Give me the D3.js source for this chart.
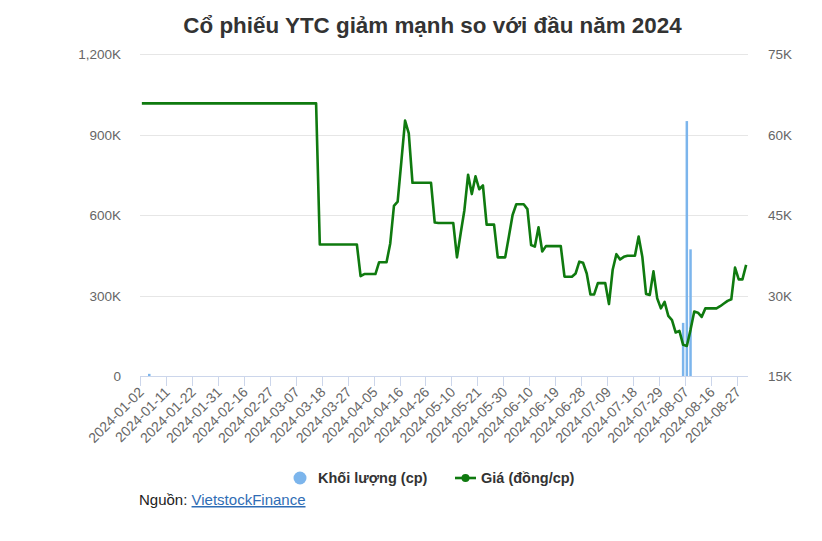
<!DOCTYPE html>
<html><head><meta charset="utf-8">
<script src="https://cdn.jsdelivr.net/npm/d3@7"></script>
<style>body{margin:0;background:#fff;} svg{display:block;font-family:"Liberation Sans",Arial,sans-serif;}</style>
</head><body><svg id="c" width="822" height="541"></svg>
<script>
const dates = [
"2024-01-02","2024-01-03","2024-01-04","2024-01-05","2024-01-08","2024-01-09","2024-01-10","2024-01-11","2024-01-12","2024-01-15","2024-01-16","2024-01-17","2024-01-18","2024-01-19","2024-01-22","2024-01-23","2024-01-24","2024-01-25","2024-01-26","2024-01-29","2024-01-30","2024-01-31",
"2024-02-01","2024-02-02","2024-02-05","2024-02-06","2024-02-07","2024-02-15","2024-02-16","2024-02-19","2024-02-20","2024-02-21","2024-02-22","2024-02-23","2024-02-26","2024-02-27","2024-02-28","2024-02-29",
"2024-03-01","2024-03-04","2024-03-05","2024-03-06","2024-03-07","2024-03-08","2024-03-11","2024-03-12","2024-03-13","2024-03-14","2024-03-15","2024-03-18","2024-03-19","2024-03-20","2024-03-21","2024-03-22","2024-03-25","2024-03-26","2024-03-27","2024-03-28","2024-03-29",
"2024-04-01","2024-04-02","2024-04-03","2024-04-04","2024-04-05","2024-04-08","2024-04-09","2024-04-10","2024-04-11","2024-04-12","2024-04-15","2024-04-16","2024-04-17","2024-04-19","2024-04-22","2024-04-23","2024-04-24","2024-04-25","2024-04-26",
"2024-05-02","2024-05-03","2024-05-06","2024-05-07","2024-05-08","2024-05-09","2024-05-10","2024-05-13","2024-05-14","2024-05-15","2024-05-16","2024-05-17","2024-05-20","2024-05-21","2024-05-22","2024-05-23","2024-05-24","2024-05-27","2024-05-28","2024-05-29","2024-05-30","2024-05-31",
"2024-06-03","2024-06-04","2024-06-05","2024-06-06","2024-06-07","2024-06-10","2024-06-11","2024-06-12","2024-06-13","2024-06-14","2024-06-17","2024-06-18","2024-06-19","2024-06-20","2024-06-21","2024-06-24","2024-06-25","2024-06-26","2024-06-27","2024-06-28",
"2024-07-01","2024-07-02","2024-07-03","2024-07-04","2024-07-05","2024-07-08","2024-07-09","2024-07-10","2024-07-11","2024-07-12","2024-07-15","2024-07-16","2024-07-17","2024-07-18","2024-07-19","2024-07-22","2024-07-23","2024-07-24","2024-07-25","2024-07-26","2024-07-29","2024-07-30","2024-07-31",
"2024-08-01","2024-08-02","2024-08-05","2024-08-06","2024-08-07","2024-08-08","2024-08-09","2024-08-12","2024-08-13","2024-08-14","2024-08-15","2024-08-16","2024-08-19","2024-08-20","2024-08-21","2024-08-22","2024-08-23","2024-08-26","2024-08-27","2024-08-28","2024-08-29"
];
// Giá (đồng/cp)
const price = [
65800,65800,65800,65800,65800,65800,65800,65800,65800,65800,65800,65800,65800,65800,65800,65800,65800,65800,65800,65800,65800,65800,
65800,65800,65800,65800,65800,65800,65800,65800,65800,65800,65800,65800,65800,65800,65800,65800,
65800,65800,65800,65800,65800,65800,65800,65800,65800,65800,39500,39500,39500,39500,39500,39500,39500,39500,39500,39500,39500,
33600,34000,34000,34000,34000,36200,36200,36200,39700,46700,47500,55000,62600,60200,51000,51000,51000,51000,51000,
51000,43600,43500,43500,43500,43500,43500,37100,41600,45900,52500,48900,52200,49800,50500,43200,43200,43200,37100,37100,37100,41000,
45000,47000,47000,47000,46100,39400,39100,42700,38200,39200,39200,39200,39200,39200,33500,33500,33500,34100,36300,36100,
34100,30200,30200,32300,32300,32300,28400,34800,37700,36700,37200,37400,37400,37400,41000,37200,30300,30100,34500,29500,27600,28800,26200,
25400,23100,23400,20800,20600,23600,27000,26800,26000,27600,27600,27600,27600,28000,28500,29000,29300,35200,33000,33000,35700
];
// Khối lượng (cp)
const volume = [
0,0,8000,0,0,0,0,0,0,0,0,0,0,0,0,0,0,0,0,0,0,0,
0,0,0,0,0,0,0,0,0,0,0,0,0,0,0,0,
0,0,0,0,0,0,0,0,0,0,0,0,0,0,0,0,0,0,0,0,0,
0,0,0,0,0,0,0,0,0,0,0,0,0,0,0,0,0,0,0,
0,0,0,0,0,0,0,0,0,0,0,0,0,0,0,0,0,0,0,0,0,0,
0,0,0,0,0,0,0,0,0,0,0,0,0,0,0,0,0,0,0,0,
0,0,0,0,0,0,0,0,0,0,0,0,0,0,0,0,0,0,0,0,0,0,0,
0,0,0,198000,950000,472000,0,0,0,0,0,0,0,0,0,0,0,0,0,0,0
];
const tickLabels = ["2024-01-02","2024-01-11","2024-01-22","2024-01-31","2024-02-16","2024-02-27","2024-03-07","2024-03-18","2024-03-27","2024-04-05","2024-04-16","2024-04-26","2024-05-10","2024-05-21","2024-05-30","2024-06-10","2024-06-19","2024-06-28","2024-07-09","2024-07-18","2024-07-29","2024-08-07","2024-08-16","2024-08-27"];
const volTicks = [0,300000,600000,900000,1200000];
const priceTicks = [15000,30000,45000,60000,75000];
const title = "Cổ phiếu YTC giảm mạnh so với đầu năm 2024";
const seriesNames = ["Khối lượng (cp)","Giá (đồng/cp)"];

const svg = d3.select("#c");
const L=140,R=748,T=54,B=376;
const x = d3.scaleBand().domain(dates).range([L,R]).padding(0);
const bw = x.bandwidth();
const cx = d => x(d)+bw/2;
const yV = d3.scaleLinear().domain([0,1200000]).range([B,T]);
const yP = d3.scaleLinear().domain([15000,75000]).range([B,T]);

svg.append("text").attr("x",432.5).attr("y",33).attr("text-anchor","middle")
  .attr("font-size",22.4).attr("font-weight","bold").attr("fill","#333").text(title);

// grid
svg.append("g").selectAll("line").data(volTicks.filter(d=>d>0)).join("line")
  .attr("x1",L).attr("x2",R).attr("y1",d=>Math.round(yV(d))+0.5).attr("y2",d=>Math.round(yV(d))+0.5)
  .attr("stroke","#e6e6e6");

// left axis labels
const fmtL = d => d===0 ? "0" : d3.format(",")(d/1000)+"K";
svg.append("g").selectAll("text").data(volTicks).join("text")
  .attr("x",121).attr("y",d=>yV(d)+5).attr("text-anchor","end")
  .attr("font-size",13.5).attr("fill","#666").text(fmtL);
// right axis labels
svg.append("g").selectAll("text").data(priceTicks).join("text")
  .attr("x",768).attr("y",d=>yP(d)+5).attr("text-anchor","start")
  .attr("font-size",13.5).attr("fill","#666").text(d=>(d/1000)+"K");

// volume bars
svg.append("g").selectAll("rect").data(dates.map((d,i)=>({d,v:volume[i]})).filter(o=>o.v>0)).join("rect")
  .attr("x",o=>cx(o.d)-1.25).attr("width",2.5)
  .attr("y",o=>yV(o.v)).attr("height",o=>B-yV(o.v)).attr("fill","#7cb5ec");

// x axis
svg.append("line").attr("x1",L).attr("x2",R).attr("y1",B+0.5).attr("y2",B+0.5).attr("stroke","#ccd6eb");
svg.append("g").selectAll("line").data(tickLabels).join("line")
  .attr("x1",d=>Math.round(x(d))+0.5).attr("x2",d=>Math.round(x(d))+0.5)
  .attr("y1",B).attr("y2",B+10).attr("stroke","#ccd6eb");
svg.append("g").selectAll("text").data(tickLabels).join("text")
  .attr("transform",d=>`translate(${cx(d)+3},${B+17}) rotate(-45)`)
  .attr("text-anchor","end").attr("font-size",14).attr("fill","#666").text(d=>d);

// price line
const line = d3.line().x((p,i)=>cx(dates[i])).y(p=>yP(p));
svg.append("path").datum(price).attr("d",line).attr("fill","none")
  .attr("stroke","#0f7a0f").attr("stroke-width",2.6).attr("stroke-linejoin","round");

// legend
const lg = svg.append("g");
lg.append("circle").attr("cx",300).attr("cy",478).attr("r",6.5).attr("fill","#7cb5ec");
lg.append("text").attr("x",318).attr("y",483).attr("font-size",14.5).attr("font-weight","bold").attr("fill","#333").text(seriesNames[0]);
lg.append("line").attr("x1",455).attr("x2",476).attr("y1",478).attr("y2",478).attr("stroke","#0f7a0f").attr("stroke-width",2.6);
lg.append("circle").attr("cx",465.5).attr("cy",478).attr("r",4).attr("fill","#0f7a0f");
lg.append("text").attr("x",481).attr("y",483).attr("font-size",14.5).attr("font-weight","bold").attr("fill","#333").text(seriesNames[1]);

// source
const src = svg.append("text").attr("x",139).attr("y",505).attr("font-size",15).attr("fill","#222");
src.append("tspan").text("Nguồn: ");
src.append("tspan").attr("fill","#2f6db5").attr("text-decoration","underline").text("VietstockFinance");
</script></body></html>
